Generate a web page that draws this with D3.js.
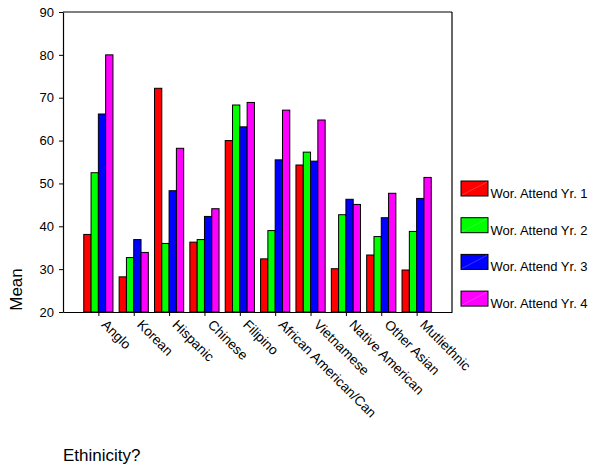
<!DOCTYPE html>
<html>
<head>
<meta charset="utf-8">
<script src="https://cdn.jsdelivr.net/npm/d3@7"></script>
<style>
  html, body { margin: 0; padding: 0; background: #fff; }
  svg { display: block; font-family: "Liberation Sans", Arial, sans-serif; }
</style>
</head>
<body>
<svg id="chart" width="598" height="468"></svg>
<script>
const categories = ["Anglo", "Korean", "Hispanic", "Chinese", "Filipino",
  "African American/Can", "Vietnamese", "Native American", "Other Asian", "Mutliethnic"];
const seriesNames = ["Wor. Attend Yr. 1", "Wor. Attend Yr. 2", "Wor. Attend Yr. 3", "Wor. Attend Yr. 4"];
const yr1 = [38.1, 28.2, 72.2, 36.3, 60.0, 32.4, 54.3, 30.1, 33.3, 29.8];
const yr2 = [52.5, 32.7, 36.0, 36.9, 68.3, 39.0, 57.3, 42.7, 37.6, 38.8];
const yr3 = [66.2, 36.9, 48.3, 42.3, 63.2, 55.5, 55.2, 46.3, 42.0, 46.5];
const yr4 = [80.0, 33.9, 58.2, 44.1, 68.9, 67.1, 64.8, 45.1, 47.7, 51.4];
const yTicks = [20, 30, 40, 50, 60, 70, 80, 90];
const colors = ["#ff0000", "#00ff00", "#0000ff", "#ff00ff"];
const yTitle = "Mean";
const xTitle = "Ethinicity?";

const seriesValues = [yr1, yr2, yr3, yr4];

const svg = d3.select("#chart");
const L = 63, R = 452, T = 12, B = 312;

const x = d3.scalePoint().domain(categories).range([L, R]).padding(1);
const inner = d3.scaleBand().domain(seriesNames).range([-14.6, 14.6]);
const y = d3.scaleLinear().domain([20, 90]).range([B, T]);

// frame top & right
svg.append("line").attr("x1", L).attr("x2", R).attr("y1", T).attr("y2", T)
  .attr("stroke", "#000").attr("stroke-width", 1.2);
svg.append("line").attr("x1", R).attr("x2", R).attr("y1", T).attr("y2", B)
  .attr("stroke", "#000").attr("stroke-width", 1.2);

// bars
const groups = svg.append("g").selectAll("g").data(categories).join("g")
  .attr("transform", d => `translate(${x(d)},0)`);
groups.selectAll("rect")
  .data((d, ci) => seriesNames.map((s, si) => ({ s, si, v: seriesValues[si][ci] })))
  .join("rect")
  .attr("x", d => inner(d.s))
  .attr("width", inner.bandwidth())
  .attr("y", d => y(d.v))
  .attr("height", d => B - y(d.v))
  .attr("fill", d => colors[d.si])
  .attr("stroke", "#000")
  .attr("stroke-width", 1);

// y axis
const yAxis = svg.append("g").attr("transform", `translate(${L},0)`)
  .call(d3.axisLeft(y).tickValues(yTicks).tickSize(4).tickPadding(5).tickSizeOuter(0));
yAxis.select(".domain").attr("stroke-width", 1.2);
yAxis.selectAll("text").attr("font-size", 13).attr("font-family", "Liberation Sans, Arial, sans-serif").attr("fill", "#000");

// x axis
const xAxis = svg.append("g").attr("transform", `translate(0,${B})`)
  .call(d3.axisBottom(x).tickSize(4).tickSizeOuter(0).tickFormat(""));
xAxis.select(".domain").attr("stroke-width", 1.2);

svg.append("g").selectAll("text").data(categories).join("text")
  .attr("transform", d => `translate(${x(d) + 2.5},325.5) rotate(45)`)
  .attr("text-anchor", "start")
  .attr("font-size", 13.6)
  .attr("fill", "#000")
  .text(d => d);

// titles
svg.append("text").attr("transform", "translate(21.5,289.5) rotate(-90)")
  .attr("text-anchor", "middle").attr("font-size", 17).attr("fill", "#000").text(yTitle);
svg.append("text").attr("x", 63).attr("y", 460.5)
  .attr("font-size", 17).attr("fill", "#000").text(xTitle);

// legend
const leg = svg.append("g").selectAll("g").data(seriesNames).join("g")
  .attr("transform", (d, i) => `translate(461,${181 + i * 36.7})`);
leg.append("rect").attr("width", 27).attr("height", 15)
  .attr("fill", (d, i) => colors[i]).attr("stroke", "#000").attr("stroke-width", 1);
leg.append("line").attr("x1", 1).attr("y1", 14).attr("x2", 26).attr("y2", 1)
  .attr("stroke", "#fff").attr("stroke-opacity", 0.35).attr("stroke-width", 0.6);
leg.append("text").attr("x", 29.5).attr("y", 17).attr("font-size", 13).attr("fill", "#000")
  .text(d => d);
</script>
</body>
</html>
